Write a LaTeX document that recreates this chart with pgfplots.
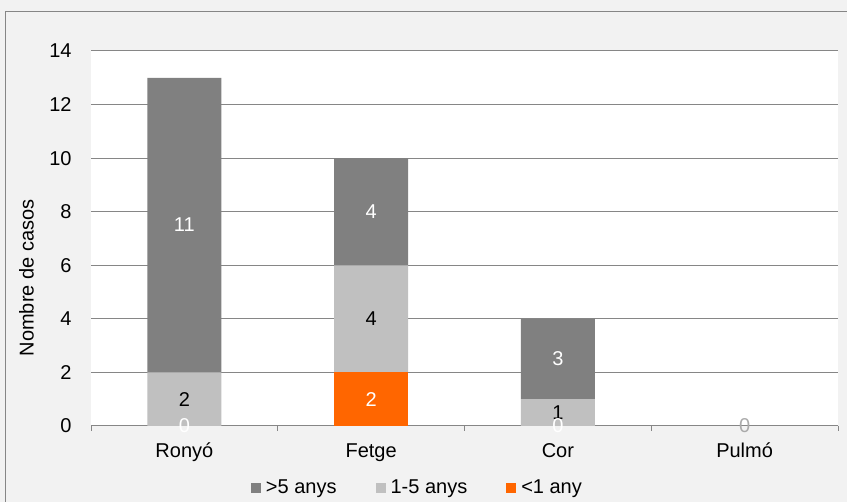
\documentclass[border=0pt]{standalone}
\usepackage{pgfplots}
\pgfplotsset{compat=1.18}
\usepackage{fontspec}
\setmainfont{Liberation Sans}
\definecolor{bgc}{RGB}{242,242,242}
\definecolor{gridc}{RGB}{134,134,134}
\definecolor{dgray}{RGB}{128,128,128}
\definecolor{lgray}{RGB}{192,192,192}
\definecolor{orng}{RGB}{255,102,0}
\definecolor{zgray}{RGB}{170,170,170}
\begin{document}
\fontsize{10}{12}\selectfont
\begin{tikzpicture}[x=1pt,y=1pt]
\path[use as bounding box] (0,0) rectangle (423.5,251);
\fill[bgc] (0,0) rectangle (423.5,251);
\draw[gridc, line width=0.5pt] (2.5,-1) -- (2.5,245) -- (424,245);
\begin{axis}[
  at={(45.5pt,38pt)}, anchor=south west,
  scale only axis, width=373.5pt, height=187.5pt,
  ybar stacked, bar width=0.396,
  xmin=-0.5, xmax=3.5, ymin=0, ymax=14,
  ytick={0,2,...,14},
  ymajorgrids, grid style={gridc, line width=0.5pt},
  axis background/.style={fill=white},
  axis lines*=left,
  y axis line style={draw=none},
  x axis line style={gridc, line width=0.5pt},
  major tick length=0pt,
  minor tick length=2.5pt,
  tick align=outside,
  xtick={0,1,2,3},
  xticklabels={Ronyó,Fetge,Cor,Pulmó},
  minor xtick={-0.5,0.5,1.5,2.5,3.5},
  minor x tick style={gridc, line width=0.5pt},
  ytick style={draw=none},
  major x tick style={draw=none},
  xticklabel style={anchor=base, inner sep=0pt, yshift=-16pt},
  yticklabel style={anchor=east, inner sep=0pt, xshift=-9.5pt},
  /pgf/number format/assume math mode=true,
  ylabel={Nombre de casos},
  ylabel style={at={(rel axis cs:-0.0863,0.395)}, anchor=center},
  reverse legend,
  legend columns=3,
  legend style={at={(rel axis cs:0.439,-0.165)}, anchor=center, draw=none, fill=none,
    /tikz/every even column/.append style={column sep=17pt},
    nodes={inner sep=2.5pt}},
  legend image code/.code={\fill[#1] (0pt,-2.5pt) rectangle (5pt,2.5pt);},
]
\addplot[fill=orng, draw=none] coordinates {(0,0) (1,2) (2,0) (3,0)};
\addlegendentry{<1 any}
\addplot[fill=lgray, draw=none] coordinates {(0,2) (1,4) (2,1) (3,0)};
\addlegendentry{1-5 anys}
\addplot[fill=dgray, draw=none] coordinates {(0,11) (1,4) (2,3) (3,0)};
\addlegendentry{>5 anys}
\end{axis}
\begin{axis}[
  at={(45.5pt,38pt)}, anchor=south west,
  scale only axis, width=373.5pt, height=187.5pt,
  xmin=-0.5, xmax=3.5, ymin=0, ymax=14,
  hide axis, clip=false,
]
\addplot[draw=none, nodes near coords, point meta=explicit symbolic,
  nodes near coords align={center},
  every node near coord/.style={anchor=center, text=black, font=\fontsize{10}{12}\selectfont}]
  coordinates {(0,1)[2] (1,4)[4] (2,0.5)[1]};
\addplot[draw=none, nodes near coords, point meta=explicit symbolic,
  nodes near coords align={center},
  every node near coord/.style={anchor=center, text=zgray, font=\fontsize{10}{12}\selectfont}]
  coordinates {(3,0)[0]};
\addplot[draw=none, nodes near coords, point meta=explicit symbolic,
  nodes near coords align={center},
  every node near coord/.style={anchor=center, text=white, font=\fontsize{10}{12}\selectfont}]
  coordinates {(0,0)[0] (0,7.5)[11] (1,1)[2] (1,8)[4] (2,0)[0] (2,2.5)[3]};
\end{axis}
\end{tikzpicture}
\end{document}
